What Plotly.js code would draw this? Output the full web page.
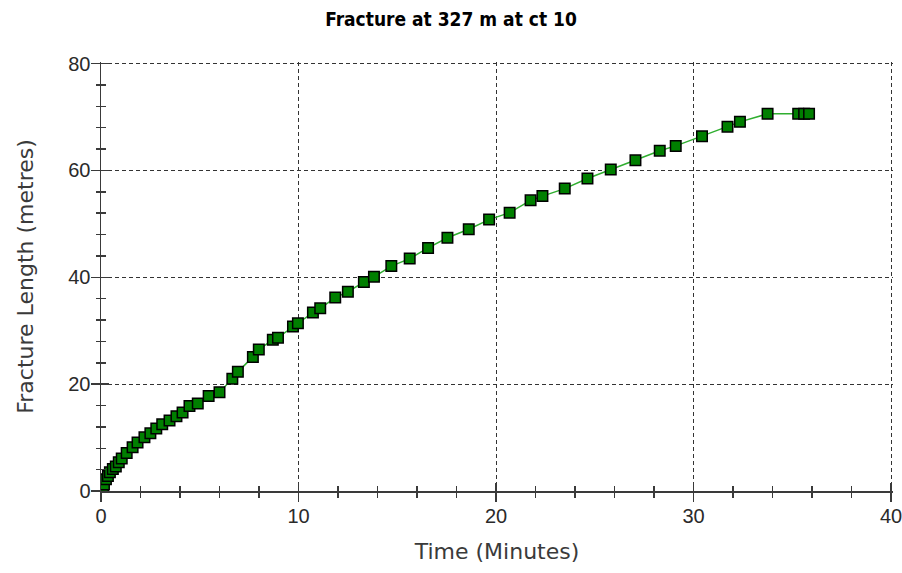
<!DOCTYPE html>
<html>
<head>
<meta charset="utf-8">
<script src="https://cdn.plot.ly/plotly-3.0.1.min.js"></script>
<style>
  html, body { margin: 0; padding: 0; background: #ffffff; }
  #chart { width: 902px; height: 573px; }
</style>
</head>
<body>
<div id="chart"></div>
<script>
// Time (minutes) of each recorded point
var timeMinutes = [0.1, 0.15, 0.25, 0.35, 0.45, 0.6, 0.75, 0.9, 1.05, 1.3, 1.6, 1.85, 2.2, 2.5, 2.8, 3.1, 3.47, 3.82, 4.13, 4.48, 4.9, 5.45, 6.0, 6.65, 6.93, 7.69, 7.99, 8.7, 8.96, 9.72, 9.97, 10.73, 11.1, 11.86, 12.5, 13.31, 13.82, 14.7, 15.63, 16.56, 17.54, 18.62, 19.65, 20.69, 21.75, 22.35, 23.48, 24.63, 25.81, 27.06, 28.29, 29.1, 30.43, 31.72, 32.35, 33.75, 35.3, 35.6, 35.85];
// Fracture length (metres)
var fractureLength = [0.4, 1.2, 2.2, 2.8, 3.5, 4.1, 4.6, 5.4, 6.1, 7.1, 8.2, 9.1, 10.05, 10.8, 11.7, 12.5, 13.2, 14.0, 14.7, 15.9, 16.4, 17.8, 18.5, 21.0, 22.3, 25.1, 26.5, 28.3, 28.7, 30.8, 31.4, 33.4, 34.2, 36.2, 37.3, 39.1, 40.1, 42.1, 43.5, 45.5, 47.4, 49.0, 50.8, 52.1, 54.4, 55.2, 56.6, 58.5, 60.2, 61.9, 63.7, 64.6, 66.4, 68.2, 69.1, 70.6, 70.6, 70.6, 70.6];

// Axis ranges (a hair beyond 40 / 80 so the edge gridlines are kept)
var xRange = [0, 40.1];
var yRange = [0, 80.3];

var chartTitle = "Fracture at 327 m at ct 10";
var xTitle = "Time (Minutes)";
var yTitle = "Fracture Length (metres)";

var axisColor = "#3a3a3a";
var tickFont = {family: "Liberation Sans, Arial, sans-serif", size: 20, color: "#2a2a2a"};
var titleFont = {family: "DejaVu Sans, sans-serif", size: 22, color: "#3a3a3a"};

var traces = [
  {
    x: timeMinutes,
    y: fractureLength,
    type: "scatter",
    mode: "lines+markers",
    line: {color: "#2fae2f", width: 1.5},
    marker: {symbol: "square", size: 10.5, color: "#007f00", line: {color: "#000000", width: 1.5}},
    hoverinfo: "x+y",
    showlegend: false
  },
  {
    x: [null], y: [null], xaxis: "x2", yaxis: "y2",
    type: "scatter", mode: "markers", showlegend: false, hoverinfo: "skip"
  }
];

var layout = {
  width: 902,
  height: 573,
  paper_bgcolor: "#ffffff",
  plot_bgcolor: "#ffffff",
  margin: {l: 101, r: 9, t: 62, b: 82, pad: 0},
  title: {
    text: "<b>" + chartTitle + "</b>",
    font: {family: "Liberation Sans Narrow, Arial Narrow, DejaVu Sans Condensed, sans-serif", size: 19, color: "#000000"},
    x: 0.5, xanchor: "center", y: 0.967, yanchor: "middle"
  },
  xaxis: {
    range: xRange, dtick: 10, tick0: 0,
    showline: true, linecolor: axisColor, linewidth: 1.5,
    zeroline: false,
    showgrid: true, gridcolor: "#333333", gridwidth: 1, griddash: "4px,3px",
    ticks: "outside", ticklen: 9, tickwidth: 1.5, tickcolor: axisColor,
    minor: {dtick: 2, ticks: "outside", ticklen: 5, tickwidth: 1.5, tickcolor: axisColor, showgrid: false},
    tickfont: tickFont, ticklabeloverflow: "allow", ticklabelstandoff: -3,
    title: {text: xTitle, font: titleFont, standoff: 18},
    fixedrange: true
  },
  yaxis: {
    range: yRange, dtick: 20, tick0: 0,
    showline: true, linecolor: axisColor, linewidth: 1.5,
    zeroline: false,
    showgrid: true, gridcolor: "#333333", gridwidth: 1, griddash: "4px,3px",
    ticks: "outside", ticklen: 9, tickwidth: 1.5, tickcolor: axisColor,
    minor: {dtick: 4, ticks: "outside", ticklen: 4, tickwidth: 1.5, tickcolor: axisColor, showgrid: false},
    tickfont: tickFont, ticklabeloverflow: "allow", ticklabelstandoff: -4,
    title: {text: yTitle, font: titleFont, standoff: 28},
    fixedrange: true
  },
  xaxis2: {
    overlaying: "x", side: "bottom", range: xRange, dtick: 10, tick0: 0,
    showline: false, zeroline: false, showgrid: false, showticklabels: false,
    ticks: "inside", ticklen: 8, tickwidth: 1.5, tickcolor: axisColor,
    minor: {dtick: 2, ticks: "inside", ticklen: 5, tickwidth: 1.5, tickcolor: axisColor, showgrid: false},
    fixedrange: true
  },
  yaxis2: {
    overlaying: "y", side: "left", range: yRange, dtick: 20, tick0: 0,
    showline: false, zeroline: false, showgrid: false, showticklabels: false,
    ticks: "inside", ticklen: 8, tickwidth: 1.5, tickcolor: axisColor,
    minor: {dtick: 4, ticks: "inside", ticklen: 5, tickwidth: 1.5, tickcolor: axisColor, showgrid: false},
    fixedrange: true
  },
  showlegend: false
};

Plotly.newPlot("chart", traces, layout, {displayModeBar: false, staticPlot: true});
</script>
</body>
</html>
